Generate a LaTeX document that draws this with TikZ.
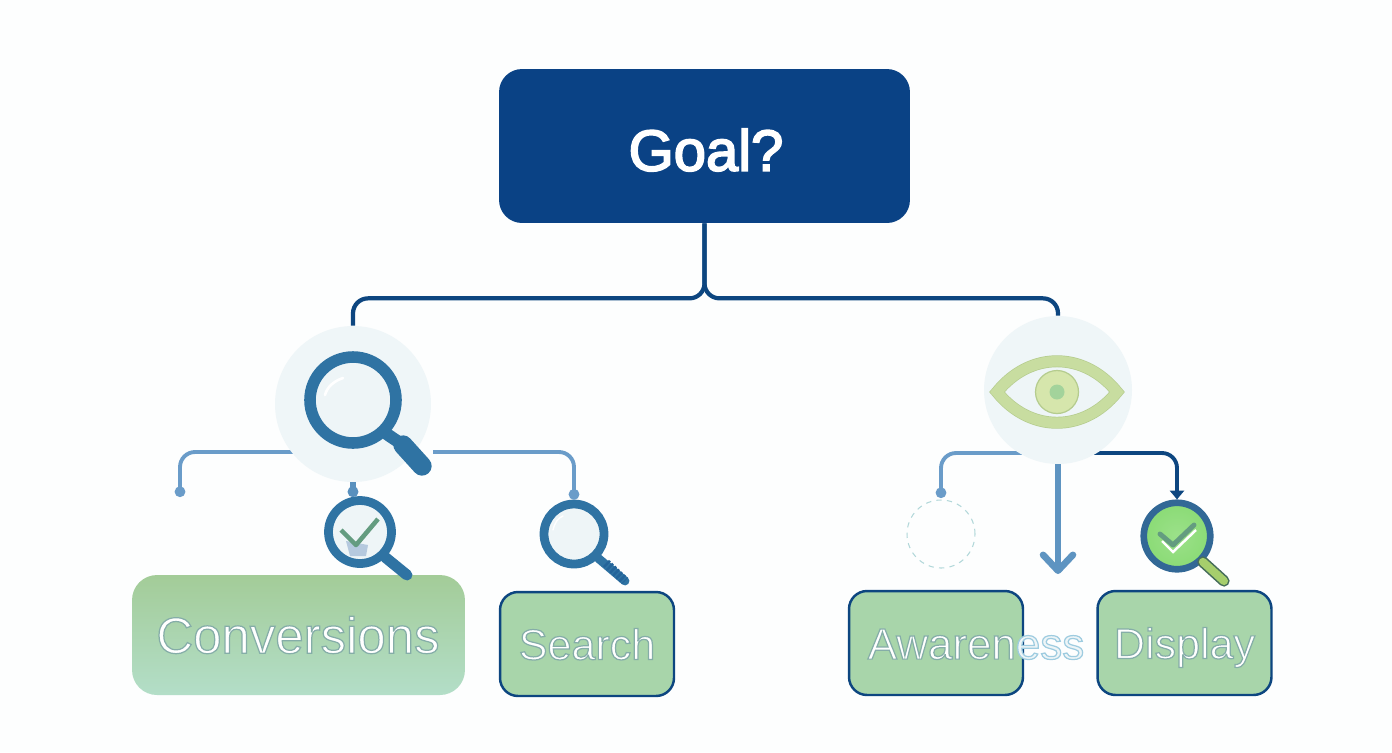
\documentclass[tikz,border=0pt]{standalone}
\usepackage{fontspec}
\setmainfont{Liberation Sans}
\usetikzlibrary{arrows.meta,backgrounds}
\definecolor{navy}{HTML}{0A4285}
\definecolor{trunk}{HTML}{0D4680}
\definecolor{branch}{HTML}{6A9CC9}
\definecolor{steel}{HTML}{2F73A3}
\definecolor{halo}{HTML}{EFF6F8}
\definecolor{leaf}{HTML}{A8D5AA}
\definecolor{glass}{HTML}{EEF5F7}
\definecolor{tick}{HTML}{649C80}
\definecolor{iris}{HTML}{D6E6AC}
\definecolor{lid}{HTML}{C8DDA0}
\definecolor{lidedge}{HTML}{B5CC8E}
\definecolor{pupil}{HTML}{A3D39B}
\definecolor{convtop}{HTML}{A3CC98}
\definecolor{convmid}{HTML}{A8D2A4}
\definecolor{convend}{HTML}{B3DEC8}
\definecolor{lime}{HTML}{8ADB75}
\definecolor{stem}{HTML}{A6CE6C}
\definecolor{patch}{HTML}{B5C9DE}
\newcommand{\hollow}[2]{\special{pdf:code 2 Tr 0.7 w #1 RG}#2\special{pdf:code 0 Tr 1 w}}
\tikzset{
    choice/.style={shape=rectangle,rounded corners=0.36cm,draw=trunk,line width=1.4pt,fill=leaf,minimum width=3.48cm,minimum height=2.08cm,text=white,text depth=0pt,font=\fontsize{24.5}{28}\selectfont},
    lens/.style={shape=circle,draw=steel,fill=glass,inner sep=0pt},
    halodisc/.style={shape=circle,fill=halo,inner sep=0pt},
    branchline/.style={draw=branch,line width=2.2pt,rounded corners=0.3cm},
    handle/.style={draw=steel,line cap=round},
}
\begin{document}
\begin{tikzpicture}[x=0.02cm,y=-0.02cm]
    \node[shape=rectangle,rounded corners=0.46cm,fill=navy,minimum width=8.22cm,minimum height=3.08cm] (goal) at (704.5,146) {};
    \node[text=white,font=\fontsize{33}{38}\selectfont] (goallabel) at (706,150) {\special{pdf:code 2 Tr 1 w 1 1 1 RG}Goal?\special{pdf:code 0 Tr 1 w}};
    \node[halodisc,minimum size=3.12cm] (searchhalo) at (353,404) {};
    \node[halodisc,minimum size=2.96cm] (eyehalo) at (1058,390) {};

    \node[shape=rectangle,rounded corners=0.5cm,top color=convtop,middle color=convmid,bottom color=convend,minimum width=6.66cm,minimum height=2.4cm] (conversions) at (298.5,635) {};
    \node[text=white,font=\fontsize{29}{34}\selectfont] (conversionslabel) at (298,635) {\hollow{0.52 0.68 0.66}{Conversions}};
    \node[choice] (search) at (587,644) {\hollow{0.52 0.68 0.66}{Search}};
    \node[choice] (awareness) at (936,643) {};
    \node[choice] (display) at (1184.5,643) {\hollow{0.52 0.68 0.66}{Display}};
    \node[text=white,text depth=0pt,font=\fontsize{25}{28}\selectfont] (awarenesslabel) at (976,644) {\hollow{0.52 0.68 0.66}{Awaren}{\color{glass}\hollow{0.62 0.8 0.88}{ess}}};

    \node[lens,line width=6.6pt,minimum size=1.72cm] (biglens) at (353,400) {};
    \node[lens,line width=5pt,minimum size=1.26cm] (ticklens) at (360,532) {};
    \node[lens,line width=5pt,minimum size=1.2cm] (searchlens) at (574,534) {};
    \node[shape=circle,draw=teal!25!halo,dashed,line width=0.6pt,minimum size=1.36cm,inner sep=0pt] (emptyring) at (941,534) {};
    \node[lens,draw=steel!70!navy!85!gray,line width=3.8pt,minimum size=1.33cm,inner color=lime!85!white,outer color=lime] (displaylens) at (1177,536) {};

    \coordinate (searchleft) at (312,452);
    \coordinate (searchright) at (433,452);
    \coordinate (searchdrop) at (180,497);
    \coordinate (tickdrop) at (353,497);
    \coordinate (eyeleft) at (1040,453);
    \coordinate (eyeright) at (1076,453);
    \coordinate (eyedrop) at (941,498);
    \coordinate (eyearrow) at (1058,574);

    \begin{scope}[on background layer]
        \fill[white!60!halo!30!white] (0,0) rectangle (1392,752);
        \path [branchline,-{Circle[length=6pt]}] (searchleft) -| (searchdrop);
        \path [branchline,-{Circle[length=6pt]}] (eyeleft) -| (eyedrop);
        \path [branchline,draw=trunk,-{Triangle[length=5pt,width=8pt]}] (eyeright) -| (displaylens.north);
    \end{scope}

    \path [draw=trunk,line width=2.4pt,rounded corners=0.3cm] (goal.south) -- ++(0,75) -| (searchhalo.north);
    \path [draw=trunk,line width=2.4pt,rounded corners=0.3cm] (goal.south) -- ++(0,75) -| (eyehalo.north);

    \path [branchline,-{Circle[length=6pt]}] (searchright) -| (searchlens.north);
    \path [branchline,draw=branch!70!steel,line width=3pt,-{Circle[length=6pt]}] (searchhalo.south) -- (tickdrop);
    \path [draw=branch!80!steel,line width=3.8pt,-{Straight Barb[length=9pt,width=17pt,line width=3.8pt,round]}] (eyehalo.south) -- (eyearrow);

    \path [handle,line width=7pt] (biglens.-45) -- (403,445);
    \path [handle,line width=11pt] (403,445) -- (422,466);
    \path [handle,line width=6.2pt] (ticklens.-45) -- (407,575);
    \path [handle,line width=5pt] (searchlens.-45) -- (625,581);
    \path [draw=steel!70!navy,line width=5pt,dash pattern=on 1.4pt off 1pt] (606,563) -- (625,581);
    \path [draw=tick!70!black,line width=6.4pt,line cap=round] (displaylens.-45) -- (1224,581);
    \path [draw=stem,line width=4.6pt,line cap=round] (displaylens.-45) -- (1224,581);

    \path [draw=white,line width=1.5pt,line cap=round] (325,395) .. controls (327,387) and (334,381) .. (343,378);
    \path [draw=white,line width=0.8pt,line cap=round] (553,530) .. controls (555,522) and (558,518) .. (563,516);
    \path [fill=patch] (346,541) -- (368,545) -- (366,556) -- (350,556) -- cycle;
    \path [draw=tick,line width=2.6pt,line join=round] (341,530) -- (356,545) -- (378,519);
    \path [draw=white,line width=1.4pt] (1162,541) -- (1173,552) -- (1196,530);
    \path [draw=tick,line width=2.8pt,line join=round,line cap=round] (1160,534) -- (1173,545) -- (1194,525);

    \path [draw=lidedge,double=lid,double distance=6pt,line width=0.4pt,fill=glass,line join=miter] (997,392) .. controls (1030,351) and (1084,351) .. (1117,392) .. controls (1084,433) and (1030,433) .. cycle;
    \node[shape=circle,draw=lidedge,fill=iris,line width=0.7pt,minimum size=0.86cm,inner sep=0pt] (eyeiris) at (1057,392) {};
    \node[shape=circle,fill=pupil,minimum size=0.3cm,inner sep=0pt] (eyepupil) at (eyeiris) {};
\end{tikzpicture}
\end{document}
